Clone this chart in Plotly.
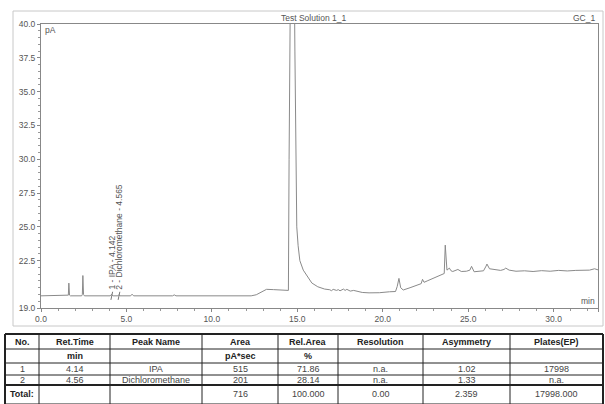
import plotly.graph_objects as go

# ---------------- chromatogram data ----------------
ret_time = [
    0.0, 1.55, 1.60, 1.63, 1.67, 1.72,
    2.38, 2.42, 2.45, 2.49, 2.54,
    4.05, 4.12, 4.16, 4.22, 4.50, 4.56, 4.62,
    5.25, 5.33, 5.42, 7.7, 7.8, 7.9, 10.8, 10.9, 11.0,
    12.3, 12.6, 12.9, 13.2, 13.6, 14.0, 14.48,
    14.52, 14.58, 14.70, 14.80, 14.86, 14.92, 14.97, 15.05, 15.15, 15.35,
    15.6, 15.85, 16.2, 16.6, 16.9, 17.0, 17.1, 17.3, 17.4, 17.5, 17.7,
    17.8, 17.9, 18.1, 18.3, 18.6, 18.8, 19.2, 19.8, 20.4,
    20.75, 20.85, 20.95, 21.05, 21.2, 21.6, 22.0, 22.25, 22.33, 22.42,
    22.6, 23.0, 23.45, 23.6, 23.66, 23.71, 23.76, 23.9, 24.0, 24.1,
    24.4, 24.6, 24.9, 25.1, 25.2, 25.35, 25.6, 25.9, 26.05, 26.1,
    26.25, 26.6, 26.9, 27.1, 27.2, 27.4, 27.8, 28.3, 28.8, 29.3,
    29.8, 30.3, 30.8, 31.3, 31.8, 32.1, 32.4, 32.6,
]
signal_pA = [
    19.9, 19.9, 19.95, 20.84, 19.95, 19.9,
    19.9, 20.0, 21.4, 20.0, 19.9,
    19.9, 20.0, 19.95, 19.9, 19.9, 19.98, 19.9,
    19.9, 20.02, 19.9, 19.9, 19.97, 19.9, 19.9, 19.95, 19.9,
    19.9, 19.98, 20.2, 20.38, 20.36, 20.32, 20.3,
    30.0, 45.0, 60.0, 48.0, 38.0, 30.0, 25.0, 23.6, 22.5, 21.8,
    21.3, 20.85, 20.57, 20.4, 20.35, 20.28, 20.38, 20.3, 20.36, 20.27, 20.4,
    20.3, 20.38, 20.25, 20.3, 20.2, 20.15, 20.12, 20.13, 20.2,
    20.22, 20.6, 21.19, 20.5, 20.33, 20.5, 20.68, 20.8, 21.12, 20.9,
    21.0, 21.2, 21.45, 21.55, 23.65, 22.0, 21.8, 21.95, 21.75, 21.7,
    21.85, 21.7, 21.72, 21.8, 22.08, 21.68, 21.7, 21.75, 22.1, 22.25,
    21.9, 21.85, 21.78, 21.85, 21.95, 21.8, 21.72, 21.75, 21.7, 21.76,
    21.72, 21.78, 21.74, 21.78, 21.76, 21.8, 21.9, 21.82,
]

x_ticks = [0.0, 5.0, 10.0, 15.0, 20.0, 25.0, 30.0, 32.6]
y_ticks = [19.0, 22.5, 25.0, 27.5, 30.0, 32.5, 35.0, 37.5, 40.0]

peak_times = [4.142, 4.565]
peak_labels = ["1 - IPA - 4.142", "2 - Dichloromethane - 4.565"]

# ---------------- table data ----------------
col_no = ["No.", "", "1", "2", "Total:"]
col_ret = ["Ret.Time", "min", "4.14", "4.56", ""]
col_name = ["Peak Name", "", "IPA", "Dichloromethane", ""]
col_area = ["Area", "pA*sec", "515", "201", "716"]
col_rel = ["Rel.Area", "%", "71.86", "28.14", "100.000"]
col_res = ["Resolution", "", "n.a.", "n.a.", "0.00"]
col_asym = ["Asymmetry", "", "1.02", "1.33", "2.359"]
col_plates = ["Plates(EP)", "", "17998", "n.a.", "17998.000"]
table_cols = [col_no, col_ret, col_name, col_area, col_rel, col_res, col_asym, col_plates]

# ---------------- layout geometry (pixels) ----------------
W, H = 605, 404
L, R, T, B = 41, 598, 24, 308
FONT = "Liberation Sans"


def px(xp):
    return (xp - L) / (R - L)


def py(yp):
    return (B - yp) / (B - T)


def label(xp, yp, text, size=8, color="#555", xanchor="center"):
    return dict(x=px(xp), y=py(yp), xref="paper", yref="paper", text=text,
                showarrow=False, xanchor=xanchor, yanchor="middle",
                font=dict(size=size, color=color, family=FONT))


fig = go.Figure()
fig.add_trace(go.Scatter(
    x=ret_time, y=signal_pA, mode="lines",
    line=dict(color="#8a8a8a", width=1), hoverinfo="skip", showlegend=False,
))

shapes = []
annotations = []

# peak markers and labels
for t, lab in zip(peak_times, peak_labels):
    shapes.append(dict(type="line", xref="x", yref="y", x0=t - 0.05, x1=t + 0.05,
                       y0=19.6, y1=20.2, line=dict(color="#777", width=1)))
    annotations.append(dict(x=t, y=20.2, xref="x", yref="y", text=lab, textangle=-90,
                            showarrow=False, xanchor="center", yanchor="bottom",
                            font=dict(size=8.5, color="#555", family=FONT)))

# outer frame
shapes.append(dict(type="rect", xref="paper", yref="paper", x0=px(13), x1=px(603),
                   y0=py(326), y1=py(11), line=dict(color="#c8c8c8", width=1)))

# title texts
annotations.append(label(313, 18, "Test Solution 1_1", size=8.5))
annotations.append(label(597, 18, "GC_1", size=8.5, xanchor="right"))
annotations.append(label(43, 30, "pA", size=8.5, xanchor="left"))
annotations.append(label(597, 301, "min", size=8.5, xanchor="right"))

# table
col_edges = [5, 39, 110, 202, 278, 338, 423, 510, 603]
row_edges = [334, 349, 363, 375, 385, 404]
for i, xe in enumerate(col_edges):
    w = 2 if i in (0, len(col_edges) - 1) else 1
    shapes.append(dict(type="line", xref="paper", yref="paper", x0=px(xe), x1=px(xe),
                       y0=py(row_edges[-1]), y1=py(row_edges[0]),
                       line=dict(color="#222", width=w)))
for j, ye in enumerate(row_edges):
    w = 2 if j in (0, 4) else 1
    shapes.append(dict(type="line", xref="paper", yref="paper", x0=px(col_edges[0]),
                       x1=px(col_edges[-1]), y0=py(ye), y1=py(ye),
                       line=dict(color="#222", width=w)))
for ci, col in enumerate(table_cols):
    xc = (col_edges[ci] + col_edges[ci + 1]) / 2
    for ri, txt in enumerate(col):
        if not txt:
            continue
        yc = (row_edges[ri] + row_edges[ri + 1]) / 2
        if ri == len(col) - 1:
            yc = 394
        bold = ri == 0 or (ri == 1 and txt in ("min", "pA*sec", "%")) or txt == "Total:"
        annotations.append(label(xc, yc, f"<b>{txt}</b>" if bold else txt, size=9,
                                 color="#222" if bold else "#444"))

axis_common = dict(
    showgrid=False, zeroline=False, showline=True, linecolor="#888", linewidth=1,
    mirror=True, ticks="outside", ticklen=3, tickcolor="#888",
    tickfont=dict(size=8.5, color="#555", family=FONT),
)
fig.update_layout(
    width=W, height=H,
    margin=dict(l=L, r=W - R, t=T, b=H - B),
    paper_bgcolor="white", plot_bgcolor="white",
    xaxis=dict(range=[0, 32.6], tickvals=x_ticks,
               ticktext=[f"{v:.1f}" for v in x_ticks],
               minor=dict(dtick=1.0, ticks="outside", ticklen=2, tickcolor="#999"),
               **axis_common),
    yaxis=dict(range=[19.0, 40.0], tickvals=y_ticks,
               ticktext=[f"{v:.1f}" for v in y_ticks],
               minor=dict(dtick=0.5, ticks="outside", ticklen=2, tickcolor="#999"),
               **axis_common),
    shapes=shapes, annotations=annotations,
)
fig.write_html(
    "out.html",
    config=dict(displayModeBar=False),
    post_script="document.body.style.margin='0';document.body.style.padding='0';"
                "document.body.style.overflow='hidden';",
)
